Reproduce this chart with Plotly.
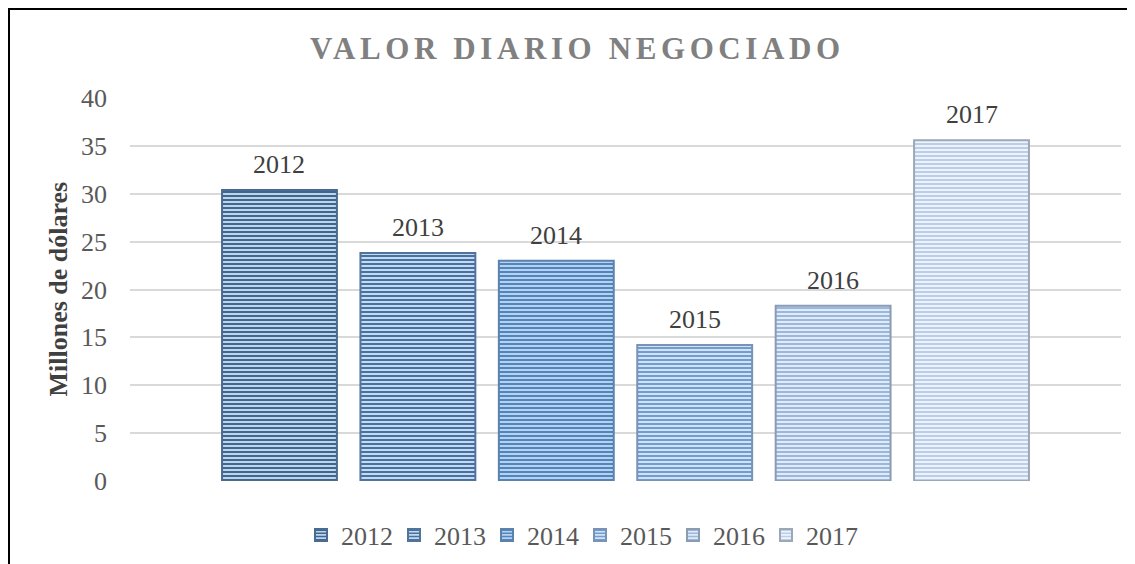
import plotly.graph_objects as go

years = ["2012", "2013", "2014", "2015", "2016", "2017"]
values = [30.4, 23.8, 23.0, 14.2, 18.3, 35.6]
y_ticks = [0, 5, 10, 15, 20, 25, 30, 35, 40]

dark = ["#3B6796", "#4373A6", "#4F86C0", "#6F9DD2", "#9AB7DD", "#BACEE9"]
light = ["#C3D3E6", "#C9D8EA", "#B9D1EC", "#D3E2F3", "#E1EAF6", "#EEF3FA"]
edge = ["#4A6A8E", "#50749A", "#5A82AC", "#7893B5", "#8A9BB2", "#9CA8B8"]

OFF = 8  # page body margin
W, H = 1135 - OFF, 564 - OFF
L, R, T, B = 130 - OFF, 14, 98 - OFF, 83
pw, ph = W - L - R, H - T - B

def px_x(p):  # page pixel -> paper
    return (p - OFF - L) / pw

def px_y(p):
    return (H - B - (p - OFF)) / ph

FONT = "Liberation Serif, Times New Roman, serif"

fig = go.Figure()
for i, yr in enumerate(years):
    fig.add_trace(go.Bar(
        x=[i], y=[values[i]], name=yr, width=0.83,
        marker=dict(
            color=light[i],
            line=dict(color=edge[i], width=2),
            pattern=dict(shape="-", fgcolor=dark[i], bgcolor=light[i],
                         size=4, solidity=0.5, fillmode="replace"),
        ),
        hoverinfo="skip",
    ))
    fig.add_annotation(x=i, y=values[i], text=yr, showarrow=False,
                       yanchor="bottom", yshift=9,
                       font=dict(family=FONT, size=26, color="#404040"))

title_text = '<span style="letter-spacing:4.6px">VALOR DIARIO NEGOCIADO</span>'
fig.add_annotation(xref="paper", yref="paper", x=px_x(577), y=px_y(48),
                   text="<b>" + title_text + "</b>", showarrow=False,
                   xanchor="center", yanchor="middle",
                   font=dict(family=FONT, size=31, color="#808080"))

fig.add_annotation(xref="paper", yref="paper", x=px_x(58), y=0.5,
                   text="<b>Millones de dólares</b>", showarrow=False,
                   textangle=-90, xanchor="center", yanchor="middle",
                   font=dict(family=FONT, size=26, color="#404040"))

fig.add_shape(type="rect", xref="paper", yref="paper",
              x0=px_x(9), x1=px_x(1150), y0=px_y(580), y1=px_y(9),
              line=dict(color="#000000", width=2), fillcolor="rgba(0,0,0,0)",
              layer="above")

fig.update_layout(
    width=W, height=H,
    margin=dict(l=L, r=R, t=T, b=B, autoexpand=False),
    paper_bgcolor="white", plot_bgcolor="white",
    barmode="overlay",
    showlegend=True,
    legend=dict(orientation="h", x=px_x(580), xanchor="center",
                y=px_y(535), yanchor="middle",
                font=dict(family=FONT, size=26, color="#595959"),
                itemwidth=30, entrywidth=48, traceorder="normal"),
    xaxis=dict(range=[-1.08, 6.08], showticklabels=False,
               showgrid=False, zeroline=False, showline=False, ticks=""),
    yaxis=dict(range=[0, 40], tickvals=y_ticks, showgrid=True,
               gridcolor="#D9D9D9", gridwidth=1.5, zeroline=False,
               showline=False, ticks="", ticklabelstandoff=22,
               tickfont=dict(family=FONT, size=26, color="#595959")),
)

fig.write_html("out.html")
